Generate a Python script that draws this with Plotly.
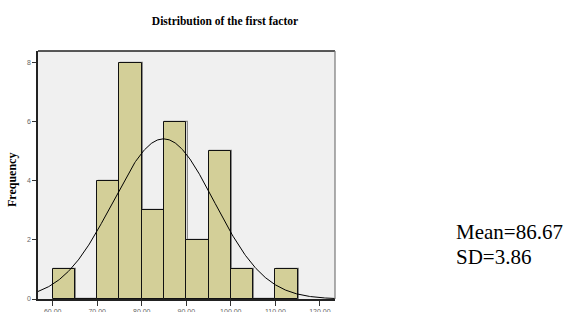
import numpy as np
import plotly.graph_objects as go

# Data
bin_starts = [60, 65, 70, 75, 80, 85, 90, 95, 100, 105, 110]
frequencies = [1, 0, 4, 8, 3, 6, 2, 5, 1, 0, 1]
bin_width = 5
x_ticks = [60, 70, 80, 90, 100, 110, 120]
y_ticks = [0, 2, 4, 6, 8]
# fitted normal curve parameters (as drawn)
fit_mean = 84.9
fit_sd = 11.4
n_total = sum(frequencies)
label_mean = "Mean=86.67"
label_sd = "SD=3.86"

centers = [b + bin_width / 2 for b in bin_starts]

fig = go.Figure()
# shadow
fig.add_trace(go.Bar(x=[c + 0.3 for c in centers], y=frequencies,
                     width=bin_width, marker=dict(color="rgba(0,0,0,0)", line=dict(color="#8a8a8a", width=1.2)),
                     hoverinfo="skip", showlegend=False))
fig.add_trace(go.Bar(x=centers, y=frequencies, width=bin_width,
                     marker=dict(color="#d3cf98", line=dict(color="#111111", width=1)),
                     showlegend=False))

xs = np.linspace(56.7, 123.4, 400)
ys = n_total * bin_width / (fit_sd * np.sqrt(2 * np.pi)) * np.exp(-0.5 * ((xs - fit_mean) / fit_sd) ** 2)
fig.add_trace(go.Scatter(x=xs, y=ys, mode="lines", line=dict(color="black", width=1), showlegend=False))

fig.update_layout(
    width=564, height=312,
    margin=dict(l=38, r=229, t=51, b=13, autoexpand=False),
    paper_bgcolor="white", plot_bgcolor="#f0f0f0",
    barmode="overlay", bargap=0,
    title=dict(text="<b>Distribution of the first factor</b>", x=225/564, xanchor="center",
               y=1 - 21/312, yanchor="middle",
               font=dict(family="Liberation Serif", size=11.5, color="black")),
    xaxis=dict(range=[56.7, 123.4], tickvals=x_ticks, ticktext=[f"{v:.2f}" for v in x_ticks],
               ticks="outside", ticklen=5, tickcolor="#333", showgrid=False, zeroline=False,
               showline=True, linecolor="#222", linewidth=1.5, mirror=False, automargin=False,
               ticklabelstandoff=0,
               tickfont=dict(family="Liberation Sans", size=7, color="#666")),
    yaxis=dict(range=[0, 8.4], tickvals=y_ticks, ticks="outside", ticklen=4, tickcolor="#333",
               showgrid=False, zeroline=False, showline=True, linecolor="#222", linewidth=1.5,
               automargin=False,
               tickfont=dict(family="Liberation Sans", size=7, color="#666")),
    shapes=[
        dict(type="line", xref="paper", yref="paper", x0=0, x1=1, y0=1, y1=1, line=dict(color="#222", width=1.5)),
        dict(type="line", xref="paper", yref="paper", x0=1, x1=1, y0=0, y1=1, line=dict(color="#777", width=1.2)),
    ],
    annotations=[
        dict(text="<b>Frequency</b>", xref="paper", yref="paper", x=(12-38)/297, y=(299-180)/248,
             textangle=-90, showarrow=False, xanchor="center", yanchor="middle",
             font=dict(family="Liberation Serif", size=12, color="black")),
        dict(text=label_mean, xref="paper", yref="paper", x=(454-38)/297, y=(299-232)/248,
             showarrow=False, xanchor="left", yanchor="middle",
             font=dict(family="Liberation Serif", size=21, color="black")),
        dict(text=label_sd, xref="paper", yref="paper", x=(454-38)/297, y=(299-257)/248,
             showarrow=False, xanchor="left", yanchor="middle",
             font=dict(family="Liberation Serif", size=21, color="black")),
    ],
)

fig.write_html("out.html", config={"displayModeBar": False},
               post_script="document.body.style.margin='0';")
